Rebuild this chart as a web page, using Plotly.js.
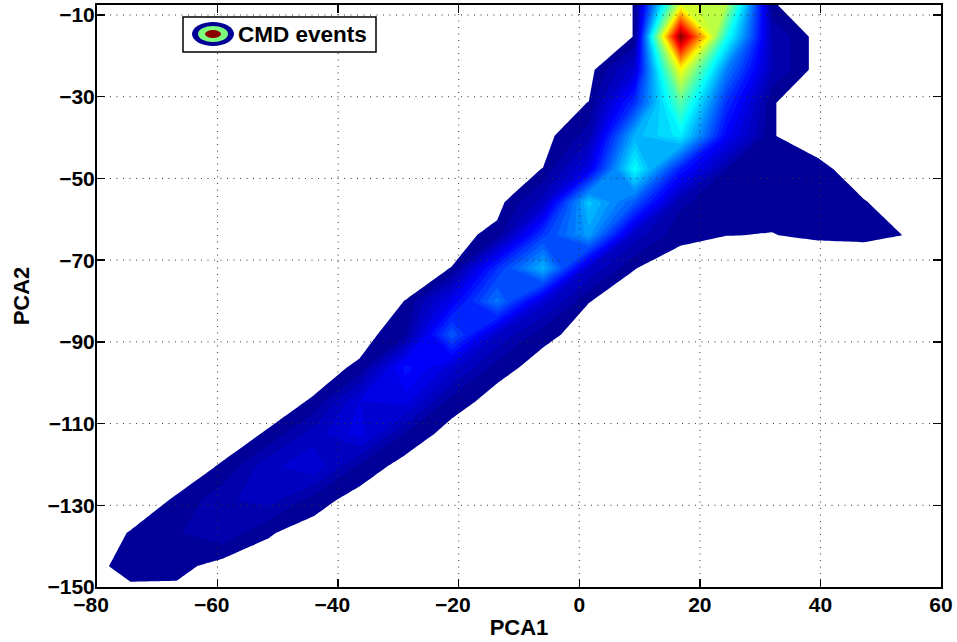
<!DOCTYPE html>
<html><head><meta charset="utf-8">
<script src="https://cdn.plot.ly/plotly-3.0.1.min.js"></script>
<style>html,body{margin:0;padding:0;background:#fff}#c{width:957px;height:642px}</style>
</head><body><div id="c"></div>
<script>
var pca1 = [-82,-74.4,-66.8,-59.2,-51.6,-44,-36.4,-28.8,-21.2,-13.6,-6,1.6,9.2,16.8,24.4,32,39.6,47.2,54.8];
var pca2 = [-7.2,-15.3,-23.4,-31.5,-39.6,-47.7,-55.8,-63.9,-72,-80.1,-88.2,-96.3,-104.4,-112.5,-120.6,-128.7,-136.8,-144.9,-153];
var r01 = [0,0,0,0,0,0,0,0,0,0,0,0,1.05,58,55,1.1,0,0,0];
var r02 = [0,0,0,0,0,0,0,0,0,0,0,0,1.05,100,40,5,0,0,0];
var r03 = [0,0,0,0,0,0,0,0,0,0,0,0,8,62,25,5,0,0,0];
var r04 = [0,0,0,0,0,0,0,0,0,0,0,1.05,17,46,17,1.1,0,0,0];
var r05 = [0,0,0,0,0,0,0,0,0,0,0,4,30,36,12,1.1,0,0,0];
var r06 = [0,0,0,0,0,0,0,0,0,0,1.05,10,38,15,3,1.5,1.5,0,0];
var r07 = [0,0,0,0,0,0,0,0,0,0.06,6,32,21,3.5,1.3,1.3,1.3,1.1,0];
var r08 = [0,0,0,0,0,0,0,0,0,1.8,18,28,6,1.47,1.02,0.97,1.19,1.27,0.95];
var r09 = [0,0,0,0,0,0,0,0,1.05,17,30,7,1.05,0,0,0,0,0,0];
var r10 = [0,0,0,0,0,0,0,1.05,11,24,8,1.05,0,0,0,0,0,0,0];
var r11 = [0,0,0,0,0,0,0,2.6,21,7,1.65,0,0,0,0,0,0,0,0];
var r12 = [0,0,0,0,0,0,1.4,14,8,1.9,0,0,0,0,0,0,0,0,0];
var r13 = [0,0,0,0,0,1.2,9,10,2.2,0,0,0,0,0,0,0,0,0,0];
var r14 = [0,0,0,0,1.2,6,10,2.7,0,0,0,0,0,0,0,0,0,0,0];
var r15 = [0,0,0,1.2,6.5,8.5,2.4,0,0,0,0,0,0,0,0,0,0,0,0];
var r16 = [0,0,1.2,4.5,6,1.95,0,0,0,0,0,0,0,0,0,0,0,0,0];
var r17 = [0,1.1,2.8,4.5,1.2,0,0,0,0,0,0,0,0,0,0,0,0,0,0];
var r18 = [0,1.9,1.8,0,0,0,0,0,0,0,0,0,0,0,0,0,0,0,0];
var r19 = [0,0,0,0,0,0,0,0,0,0,0,0,0,0,0,0,0,0,0];
var density = [r01,r02,r03,r04,r05,r06,r07,r08,r09,r10,r11,r12,r13,r14,r15,r16,r17,r18,r19];
var xTicks = [-80,-60,-40,-20,0,20,40,60];
var xTickText = ["\u221280\u00a0\u00a0","\u221260\u00a0\u00a0","\u221240\u00a0\u00a0","\u221220\u00a0\u00a0","0","20","40","60"];
var yTicks = [-150,-130,-110,-90,-70,-50,-30,-10];
var yTickText = ["\u2212150","\u2212130","\u2212110","\u221290","\u221270","\u221250","\u221230","\u221210"];
var legendLabel = "CMD events";
var xTitle = "PCA1", yTitle = "PCA2";

var W=957,H=642,mL=97,mR=16,mT=5,mB=55;
function px(x){return (x-mL)/(W-mL-mR);}
function py(y){return 1-(y-mT)/(H-mT-mB);}
var jet=[[0,'#ffffff'],[0.01,'#ffffff'],[0.01,'#00008f'],[0.125,'#0000ff'],[0.375,'#00ffff'],[0.625,'#ffff00'],[0.875,'#ff0000'],[1,'#800000']];
var gridLine={color:'#333',width:1,dash:'1px,5.5px'};
var shapes=[];
xTicks.slice(1,-1).forEach(function(t){shapes.push({type:'line',layer:'above',xref:'x',yref:'paper',x0:t,x1:t,y0:0,y1:1,line:gridLine});});
yTicks.slice(1).forEach(function(t){shapes.push({type:'line',layer:'above',xref:'paper',yref:'y',x0:0,x1:1,y0:t,y1:t,line:gridLine});});
function paperShape(type,x0,y0,x1,y1,fill,line){return {type:type,layer:'above',xref:'paper',yref:'paper',x0:px(x0),x1:px(x1),y0:py(y0),y1:py(y1),fillcolor:fill,line:line};}
shapes.push(paperShape('rect',183,17,376,52,'#fff',{color:'#000',width:1.5}));
shapes.push(paperShape('circle',192,22,234,46,'#000096',{width:0}));
shapes.push(paperShape('circle',198,26,228,42,'#7dff7d',{width:0}));
shapes.push(paperShape('circle',205,30,221,38,'#8c0000',{width:0}));
var fam='"Liberation Sans",Arial,sans-serif';
var tickFont={family:fam,size:21,color:'#000',weight:700};
var titleFont={family:fam,size:22,color:'#000',weight:700};
var axis={showgrid:false,zeroline:false,showline:true,linecolor:'#000',linewidth:2,mirror:'allticks',ticks:'inside',ticklen:8,tickwidth:1.5,tickcolor:'#000',tickfont:tickFont,layer:'above traces',tickmode:'array'};
var layout={width:W,height:H,margin:{l:mL,r:mR,t:mT,b:mB,pad:0},paper_bgcolor:'#fff',plot_bgcolor:'#fff',showlegend:false,font:tickFont,shapes:shapes,
 xaxis:Object.assign({},axis,{range:[-80,60],tickvals:xTicks,ticktext:xTickText,ticklabelstandoff:-2,automargin:false,title:{text:xTitle,font:titleFont,standoff:4}}),
 yaxis:Object.assign({},axis,{range:[-150,-7.55],tickvals:yTicks,ticktext:yTickText,ticklabelstandoff:-4,automargin:false,title:{text:yTitle,font:titleFont,standoff:12}}),
 annotations:[{xref:'paper',yref:'paper',x:px(236),y:py(34.5),xanchor:'left',yanchor:'middle',showarrow:false,text:legendLabel,font:{family:fam,size:22.5,color:'#000',weight:700}}]};
Plotly.newPlot('c',[{type:'contour',x:pca1,y:pca2,z:density,colorscale:jet,showscale:false,autocontour:false,zmin:0,zmax:100,
 contours:{start:1,end:99,size:2,coloring:'fill',showlines:false},line:{width:0,smoothing:0},hoverinfo:'skip'}],layout,{displayModeBar:false,staticPlot:true});
</script></body></html>
